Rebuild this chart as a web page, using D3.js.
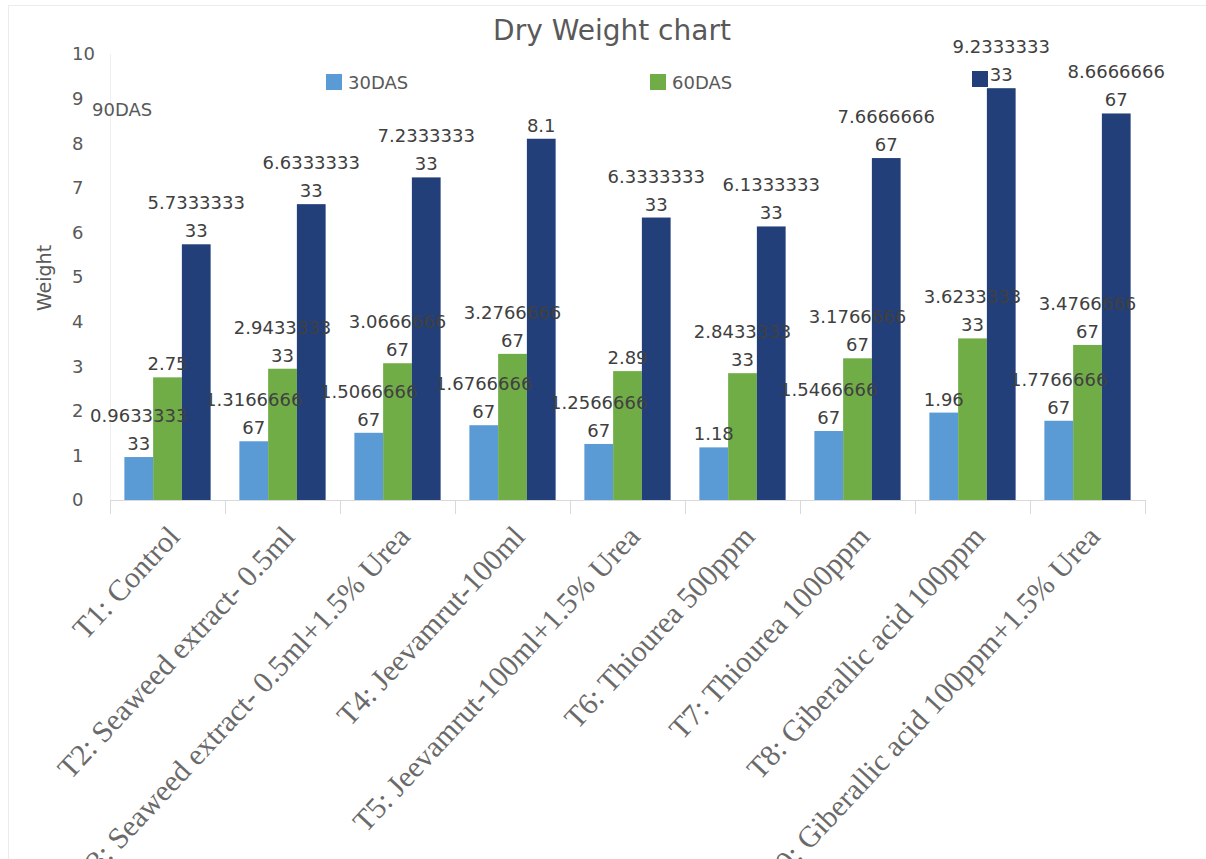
<!DOCTYPE html>
<html>
<head>
<meta charset="utf-8">
<script src="https://cdn.jsdelivr.net/npm/d3@7"></script>
<style>
  html, body { margin: 0; padding: 0; background: #fff; }
  svg { display: block; }
</style>
</head>
<body>
<svg id="chart" width="1206" height="859"></svg>
<script>
// Treatments on the x axis
const categories = [
  "T1: Control",
  "T2: Seaweed extract- 0.5ml",
  "T3: Seaweed extract- 0.5ml+1.5% Urea",
  "T4: Jeevamrut-100ml",
  "T5: Jeevamrut-100ml+1.5% Urea",
  "T6: Thiourea 500ppm",
  "T7: Thiourea 1000ppm",
  "T8: Giberallic acid 100ppm",
  "T9: Giberallic acid 100ppm+1.5% Urea"
];

// Dry weight at each sampling date
const series = ["30DAS", "60DAS", "90DAS"];
const das30 = [0.963333333, 1.316666667, 1.506666667, 1.676666667, 1.256666667, 1.18, 1.546666667, 1.96, 1.776666667];
const das60 = [2.75, 2.943333333, 3.066666667, 3.276666667, 2.89, 2.843333333, 3.176666667, 3.623333333, 3.476666667];
const das90 = [5.733333333, 6.633333333, 7.233333333, 8.1, 6.333333333, 6.133333333, 7.666666667, 9.233333333, 8.666666667];

const yTicks = [0, 1, 2, 3, 4, 5, 6, 7, 8, 9, 10];
const colors = ["#5b9bd5", "#70ad47", "#223f79"];

const values = [das30, das60, das90];
const rows = categories.map((c, i) => ({ cat: c, vals: values.map(s => s[i]) }));

const svg = d3.select("#chart");
const W = 1206, H = 859;
const plot = { left: 110, right: 1145, top: 54, bottom: 500 };

// faint outer frame
svg.append("rect")
  .attr("x", 8.5).attr("y", 5.5)
  .attr("width", W).attr("height", H)
  .attr("fill", "none").attr("stroke", "#ececec");

const x0 = d3.scaleBand()
  .domain(categories)
  .range([plot.left, plot.right])
  .paddingInner(0.25)
  .paddingOuter(0.125);

const x1 = d3.scaleBand()
  .domain(series)
  .range([0, x0.bandwidth()]);

const y = d3.scaleLinear()
  .domain([0, 10])
  .range([plot.bottom, plot.top]);

const greyText = "#595959";

// title
svg.append("text")
  .attr("x", 612).attr("y", 40)
  .attr("text-anchor", "middle")
  .attr("font-family", "DejaVu Sans, sans-serif")
  .attr("font-size", 28)
  .attr("fill", greyText)
  .text("Dry Weight chart");

// value axis line (very light)
svg.append("line")
  .attr("x1", plot.left + 0.5).attr("x2", plot.left + 0.5)
  .attr("y1", plot.top).attr("y2", plot.bottom)
  .attr("stroke", "#f0f0f0");

// y tick labels
svg.append("g")
  .selectAll("text")
  .data(yTicks)
  .join("text")
  .attr("x", 72)
  .attr("y", d => y(d))
  .attr("dy", "0.36em")
  .attr("font-family", "DejaVu Sans, sans-serif")
  .attr("font-size", 18)
  .attr("fill", greyText)
  .text(d => d);

// y axis title
svg.append("text")
  .attr("transform", `translate(51, ${278}) rotate(-90)`)
  .attr("text-anchor", "middle")
  .attr("font-family", "DejaVu Sans, sans-serif")
  .attr("font-size", 19)
  .attr("fill", greyText)
  .text("Weight");

// category axis with boundary ticks
const xAxis = svg.append("g");
xAxis.append("line")
  .attr("x1", plot.left).attr("x2", plot.right)
  .attr("y1", plot.bottom + 0.5).attr("y2", plot.bottom + 0.5)
  .attr("stroke", "#d9d9d9");
const boundaries = categories.map(c => x0(c) - x0.step() * x0.paddingInner() / 2)
  .concat([plot.right]);
xAxis.selectAll("line.tick")
  .data(boundaries)
  .join("line")
  .attr("class", "tick")
  .attr("x1", d => Math.round(d) + 0.5).attr("x2", d => Math.round(d) + 0.5)
  .attr("y1", plot.bottom).attr("y2", plot.bottom + 14)
  .attr("stroke", "#d9d9d9");

// bars
const groups = svg.append("g")
  .selectAll("g")
  .data(rows)
  .join("g")
  .attr("transform", d => `translate(${x0(d.cat)},0)`);

groups.selectAll("rect")
  .data(d => d.vals.map((v, k) => ({ key: series[k], v, k })))
  .join("rect")
  .attr("x", d => x1(d.key))
  .attr("width", x1.bandwidth())
  .attr("y", d => y(d.v))
  .attr("height", d => y(0) - y(d.v))
  .attr("fill", d => colors[d.k]);

// data labels: value text wrapped after 9 characters
function labelLines(v) {
  const s = String(parseFloat(v.toPrecision(10)));
  return s.length > 9 ? [s.slice(0, 9), s.slice(9)] : [s];
}

const labels = svg.append("g");
rows.forEach(r => {
  r.vals.forEach((v, k) => {
    const cx = x0(r.cat) + x1(series[k]) + x1.bandwidth() / 2;
    const lines = labelLines(v);
    lines.forEach((ln, j) => {
      labels.append("text")
        .attr("x", cx)
        .attr("y", y(v) - 7 - (lines.length - 1 - j) * 28)
        .attr("text-anchor", "middle")
        .attr("font-family", "DejaVu Sans, sans-serif")
        .attr("font-size", 18)
        .attr("fill", "#404040")
        .text(ln);
    });
  });
});

// category labels, rotated
svg.append("g")
  .selectAll("text")
  .data(categories)
  .join("text")
  .attr("transform", d => `translate(${x0(d) + x0.bandwidth() / 2 + 14}, 538) rotate(-47)`)
  .attr("text-anchor", "end")
  .attr("font-family", "Liberation Serif, Times New Roman, serif")
  .attr("font-size", 30)
  .attr("fill", "#6a6a6a")
  .text(d => d);

// legend
const legendPos = [
  { sx: 326, sy: 74, tx: 348, ty: 89 },
  { sx: 650, sy: 74, tx: 672, ty: 89 },
  { sx: 972, sy: 71, tx: 92, ty: 116 }
];
const legend = svg.append("g");
series.forEach((s, k) => {
  const p = legendPos[k];
  legend.append("rect")
    .attr("x", p.sx).attr("y", p.sy)
    .attr("width", 16).attr("height", 16)
    .attr("fill", colors[k]);
  legend.append("text")
    .attr("x", p.tx).attr("y", p.ty)
    .attr("font-family", "DejaVu Sans, sans-serif")
    .attr("font-size", 18)
    .attr("fill", greyText)
    .text(s);
});
</script>
</body>
</html>
